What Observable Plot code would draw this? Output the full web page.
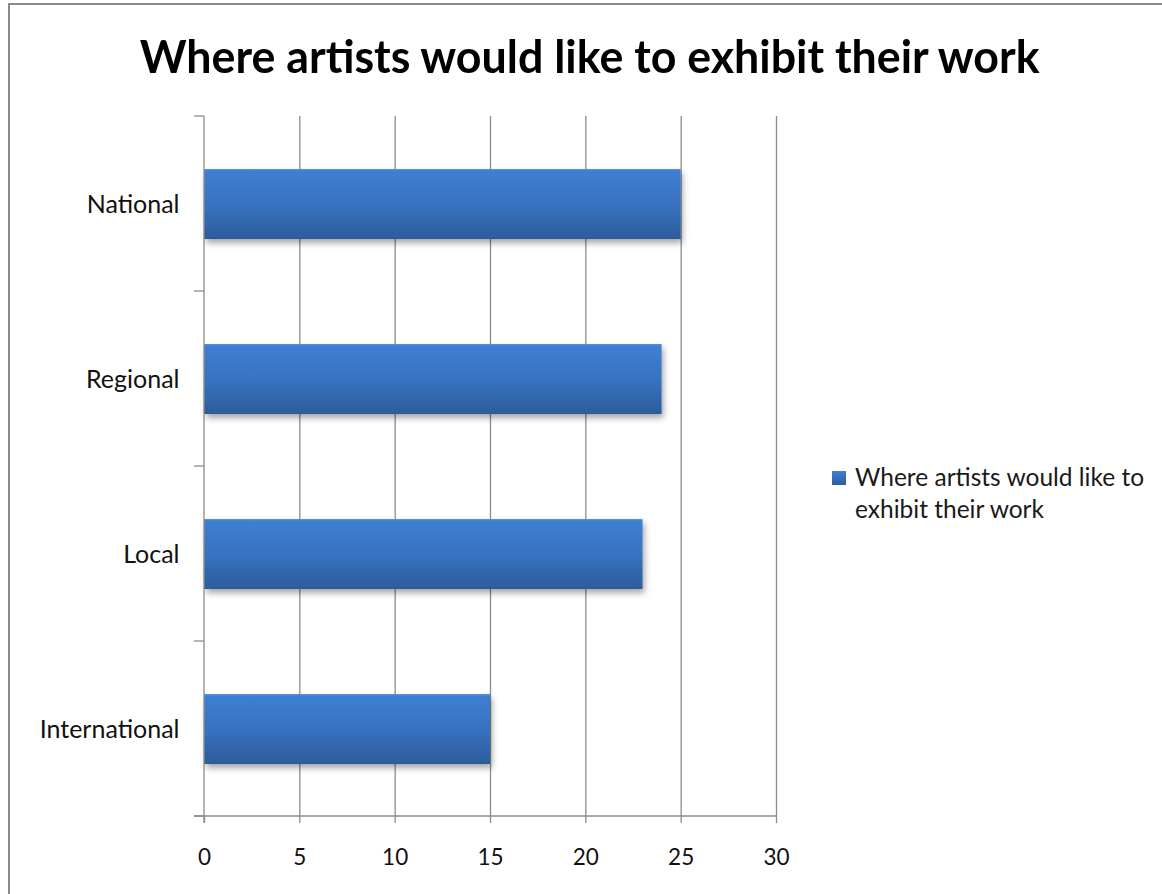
<!DOCTYPE html>
<html>
<head>
<meta charset="utf-8">
<script src="https://cdn.jsdelivr.net/npm/d3@7"></script>
<script src="https://cdn.jsdelivr.net/npm/@observablehq/plot@0.6"></script>
<style>
  html, body { margin: 0; padding: 0; background: #fff; }
  #wrap { position: relative; width: 1162px; height: 894px; overflow: hidden; font-family: Lato, "Open Sans", sans-serif; }
  #border { position: absolute; left: 8px; top: 3px; width: 1200px; height: 950px; border-top: 2px solid #8a8a8a; border-left: 2px solid #8a8a8a; box-sizing: border-box; }
  #title { position: absolute; top: 29px; left: 0; width: 1180px; text-align: center; font-weight: 700; font-size: 45px; color: #000; white-space: nowrap; }
  #title span { display: inline-block; transform-origin: center; }
  #legend { position: absolute; left: 832px; top: 461px; display: flex; align-items: flex-start; color: #1a1a1a; }
  #legend .sw { width: 14px; height: 14px; margin-top: 10px; margin-right: 9px; background: linear-gradient(#3f80d4, #2c5c9b); }
  #legend .tx { font-size: 24.5px; line-height: 32px; }
  #chart { position: absolute; left: 0; top: 0; }
</style>
</head>
<body>
<div id="wrap">
  <div id="border"></div>
  <div id="chart"></div>
  <div id="title"><span>Where artists would like to exhibit their work</span></div>
  <div id="legend"><div class="sw"></div><div class="tx">Where artists would like to<br>exhibit their work</div></div>
</div>
<script>
const categories = ["National", "Regional", "Local", "International"];
const values = [25, 24, 23, 15];
const xTicks = [0, 5, 10, 15, 20, 25, 30];
const seriesName = "Where artists would like to exhibit their work";

const data = categories.map((c, i) => ({category: c, value: values[i]}));

const gridColor = "#8c8c8c";

const axisLines = (index, scales, vals, dims) => {
  const top = dims.marginTop, bottom = dims.height - dims.marginBottom;
  const left = dims.marginLeft, right = dims.width - dims.marginRight;
  const n = categories.length;
  const g = d3.create("svg:g").attr("stroke", gridColor).attr("stroke-width", 1.3);
  g.append("line").attr("x1", left).attr("x2", left).attr("y1", top).attr("y2", bottom + 7);
  g.append("line").attr("x1", left - 10).attr("x2", right).attr("y1", bottom).attr("y2", bottom);
  for (let i = 0; i <= n; i++) {
    const y = top + (bottom - top) * i / n;
    g.append("line").attr("x1", left - 10).attr("x2", left).attr("y1", y).attr("y2", y);
  }
  return g.node();
};

const plot = Plot.plot({
  width: 1162,
  height: 894,
  marginTop: 116,
  marginBottom: 78,
  marginLeft: 204,
  marginRight: 386,
  style: {background: "transparent", color: "#111", fontFamily: "Lato, 'Open Sans', sans-serif"},
  x: {domain: [0, 30], ticks: xTicks, label: null},
  y: {domain: categories, paddingInner: 0.6, paddingOuter: 0.3, label: null},
  marks: [
    Plot.gridX(xTicks.slice(1), {stroke: gridColor, strokeOpacity: 1, strokeWidth: 1.3}),
    Plot.barX(data, {x: "value", y: "category", fill: "url(#barGrad)"}),
    axisLines,
    Plot.axisX({ticks: xTicks, tickSize: 7, tickPadding: 26, stroke: gridColor, strokeWidth: 1.3, fontSize: 22.5, label: null}),
    Plot.axisY({tickSize: 0, tickPadding: 25, fontSize: 25, label: null})
  ]
});

const svg = d3.select(plot);
const defs = svg.insert("defs", ":first-child");
const grad = defs.append("linearGradient").attr("id", "barGrad").attr("x1", 0).attr("x2", 0).attr("y1", 0).attr("y2", 1);
grad.append("stop").attr("offset", "0%").attr("stop-color", "#5a92dc");
grad.append("stop").attr("offset", "3%").attr("stop-color", "#3d7fd2");
grad.append("stop").attr("offset", "50%").attr("stop-color", "#3872c0");
grad.append("stop").attr("offset", "100%").attr("stop-color", "#2c5c9b");
const f = defs.append("filter").attr("id", "shadow").attr("x", "-5%").attr("y", "-20%").attr("width", "115%").attr("height", "160%");
f.append("feDropShadow").attr("dx", 2).attr("dy", 4).attr("stdDeviation", 3).attr("flood-color", "#000").attr("flood-opacity", 0.35);
svg.selectAll("g[aria-label='bar'] rect").attr("filter", "url(#shadow)");

document.getElementById("chart").appendChild(plot);

// fit title to reference width (condensed look)
const span = document.querySelector("#title span");
const w = span.getBoundingClientRect().width;
span.style.transform = `scaleX(${900 / w})`;
</script>
</body>
</html>
